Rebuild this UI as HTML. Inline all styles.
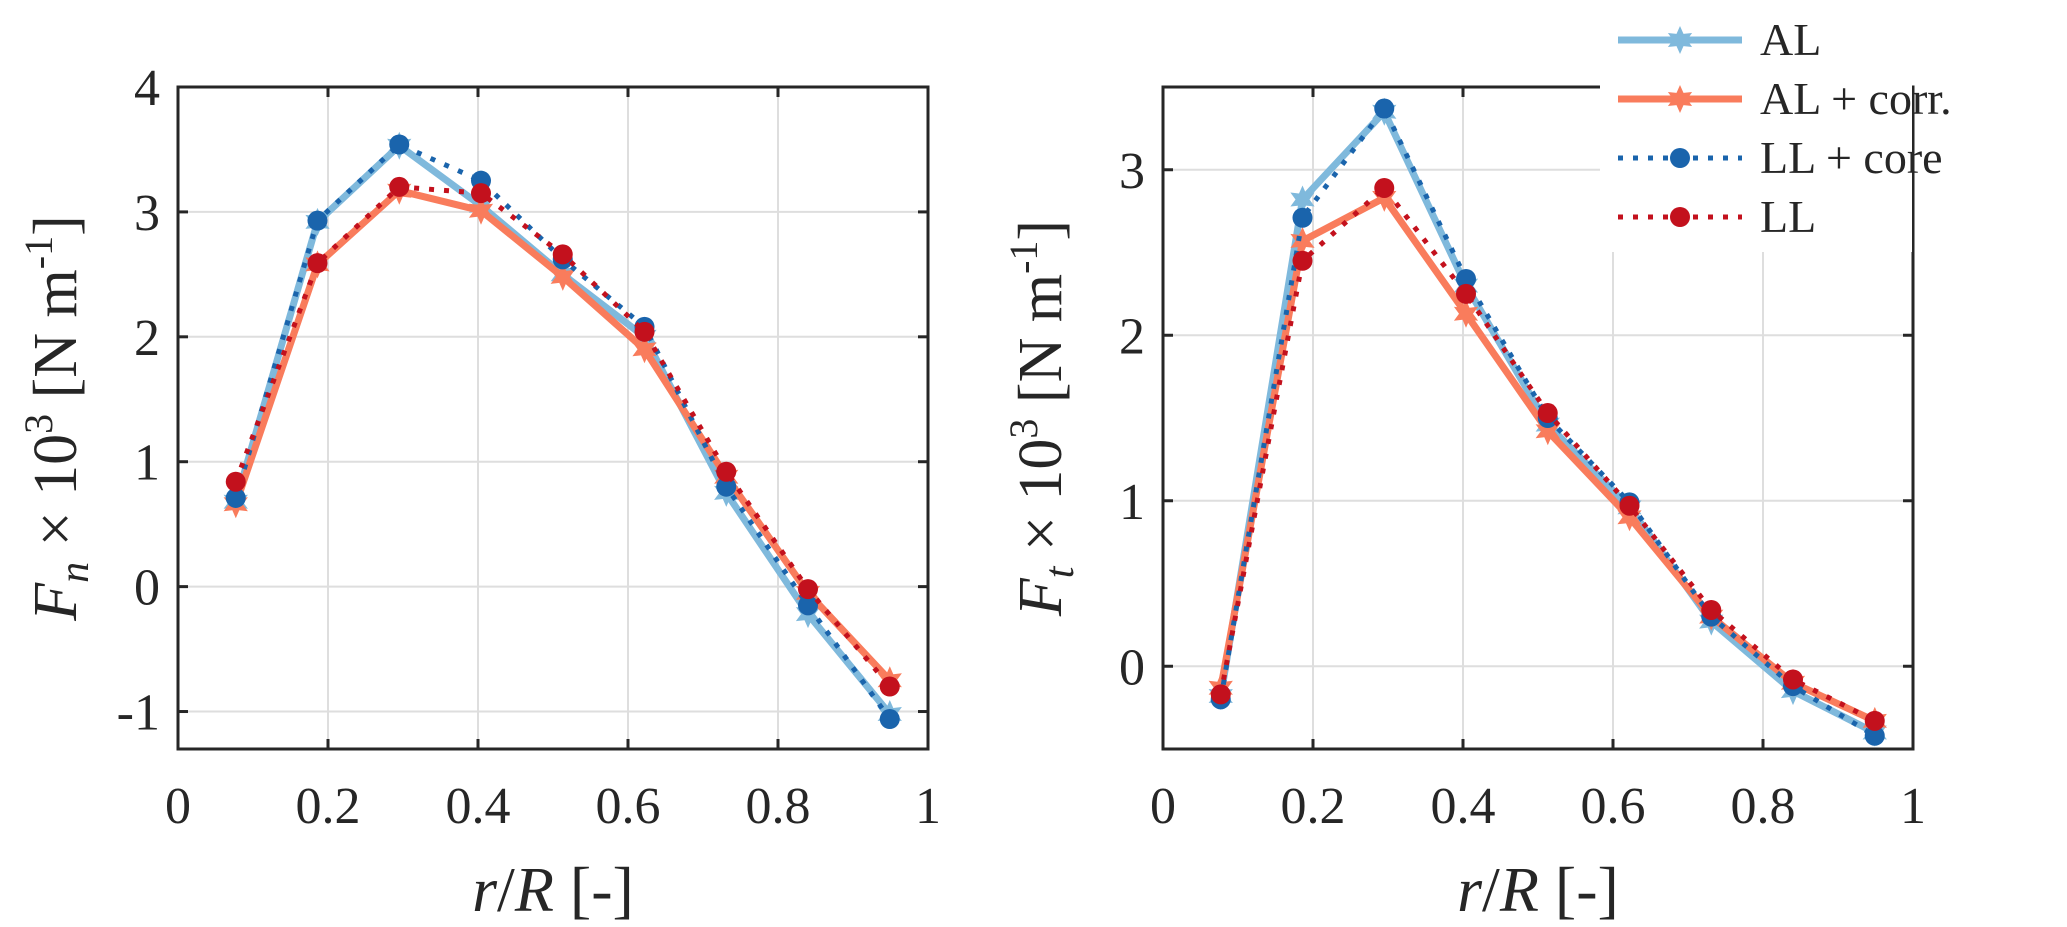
<!DOCTYPE html>
<html><head><meta charset="utf-8"><style>
html,body{margin:0;padding:0;background:#fff;}
svg{display:block;font-family:"Liberation Serif",serif;}
</style></head><body>
<svg id="chart" width="2067" height="927" viewBox="0 0 2067 927" xmlns="http://www.w3.org/2000/svg"></svg>
<script>
const xs = [0.077,0.186,0.295,0.404,0.513,0.622,0.731,0.840,0.949];
const fnAL = [0.68,2.92,3.53,3.05,2.50,2.00,0.75,-0.22,-1.02];
const fnALc = [0.66,2.58,3.17,3.01,2.48,1.90,0.88,-0.05,-0.75];
const fnLLc = [0.71,2.93,3.54,3.25,2.62,2.08,0.80,-0.15,-1.06];
const fnLL = [0.84,2.59,3.20,3.15,2.66,2.04,0.92,-0.02,-0.80];
const ftAL = [-0.18,2.82,3.35,2.30,1.46,0.96,0.27,-0.15,-0.40];
const ftALc = [-0.13,2.57,2.83,2.13,1.42,0.90,0.30,-0.10,-0.33];
const ftLLc = [-0.20,2.71,3.37,2.34,1.50,0.99,0.30,-0.12,-0.42];
const ftLL = [-0.17,2.45,2.89,2.25,1.53,0.97,0.34,-0.08,-0.33];
const xTicks = [0,0.2,0.4,0.6,0.8,1];
const xTickLabels = ["0","0.2","0.4","0.6","0.8","1"];
const yTicksL = [-1,0,1,2,3,4];
const yTicksR = [0,1,2,3];
const legendLabels = ["AL","AL + corr.","LL + core","LL"];

const NS="http://www.w3.org/2000/svg";
const svg=document.getElementById('chart');
function mk(tag,attrs,parent){const e=document.createElementNS(NS,tag);for(const k in attrs)e.setAttribute(k,attrs[k]);(parent||svg).appendChild(e);return e;}
function star(cx,cy,r){let p=[];for(let i=0;i<12;i++){const a=-Math.PI/2+i*Math.PI/6;const rr=i%2?r*0.5:r;p.push((cx+rr*Math.cos(a)).toFixed(1)+','+(cy+rr*Math.sin(a)).toFixed(1));}return p.join(' ');}

const series=[
 {c:'#7fb9dc',dash:null,m:'star',w:7},
 {c:'#f97c5c',dash:null,m:'star',w:7},
 {c:'#1a64ac',dash:'5 10',m:'dot',w:5},
 {c:'#c3111d',dash:'5 10',m:'dot',w:5}
];

function panel(name,x0,x1,yMin,yMax,yTicks,data,ylabelMain,sub){
  const top=87,bot=749;
  const X=v=>x0+(x1-x0)*v;
  const Y=v=>bot-(bot-top)*(v-yMin)/(yMax-yMin);
  const g=mk('g',{});
  
  
  xTicks.forEach(t=>{const l=mk('line',{x1:X(t),x2:X(t),y1:top,y2:bot,stroke:'#dedede','stroke-width':2},g);});
  yTicks.forEach(t=>{const l=mk('line',{x1:x0,x2:x1,y1:Y(t),y2:Y(t),stroke:'#dedede','stroke-width':2},g);});
  data.forEach((d,si)=>{
    const s=series[si];
    const pts=xs.map((x,i)=>X(x).toFixed(1)+','+Y(d[i]).toFixed(1)).join(' ');
    const pl=mk('polyline',{points:pts,fill:'none',stroke:s.c,'stroke-width':s.w,'stroke-linejoin':'round'},g);
    if(s.dash)pl.setAttribute('stroke-dasharray',s.dash);
    
    
    xs.forEach((x,i)=>{
      let m;
      if(s.m==='star')m=mk('polygon',{points:star(X(x),Y(d[i]),14),fill:s.c},g);
      else m=mk('circle',{cx:X(x),cy:Y(d[i]),r:10,fill:s.c},g);
      
      
    });
  });
  const box=mk('rect',{x:x0,y:top,width:x1-x0,height:bot-top,fill:'none',stroke:'#262626','stroke-width':3},g);
  
  xTicks.forEach((t,i)=>{
    mk('line',{x1:X(t),x2:X(t),y1:bot,y2:bot-10,stroke:'#262626','stroke-width':3},g);
    mk('line',{x1:X(t),x2:X(t),y1:top,y2:top+10,stroke:'#262626','stroke-width':3},g);
    const tx=mk('text',{x:X(t),y:bot+74,'text-anchor':'middle','font-size':52,fill:'#262626'},g);
    tx.textContent=xTickLabels[i];
    
  });
  yTicks.forEach(t=>{
    mk('line',{x1:x0,x2:x0+10,y1:Y(t),y2:Y(t),stroke:'#262626','stroke-width':3},g);
    mk('line',{x1:x1,x2:x1-10,y1:Y(t),y2:Y(t),stroke:'#262626','stroke-width':3},g);
    const tx=mk('text',{x:x0-18,y:Y(t)+18,'text-anchor':'end','font-size':52,fill:'#262626'},g);
    tx.textContent=String(t);
    
  });
  const xl=mk('text',{x:(x0+x1)/2,y:bot+162,'text-anchor':'middle','font-size':64,fill:'#262626'},g);
  xl.innerHTML='<tspan font-style="italic">r</tspan>/<tspan font-style="italic">R</tspan> [-]';
  
  const cy=(top+bot)/2;
  const yl=mk('text',{x:0,y:0,'text-anchor':'middle','font-size':62,fill:'#262626',transform:`translate(${x0-102},${cy}) rotate(-90)`},g);
  yl.innerHTML='<tspan font-style="italic">'+ylabelMain+'</tspan><tspan font-style="italic" font-size="42" dy="12">'+sub+'</tspan><tspan dy="-12"> × 10</tspan><tspan font-size="40" dy="-24">3</tspan><tspan dy="24"> [N m</tspan><tspan font-size="40" dy="-24">-1</tspan><tspan dy="24">]</tspan>';
  
}
panel('left-panel-fn',178,928,-1.3,4,yTicksL,[fnAL,fnALc,fnLLc,fnLL],'F','n');
panel('right-panel-ft',1163,1913,-0.5,3.5,yTicksR,[ftAL,ftALc,ftLLc,ftLL],'F','t');

// legend
const lg=mk('g',{});


mk('rect',{x:1600,y:12,width:312,height:240,fill:'#fff'},lg);
legendLabels.forEach((lab,i)=>{
  const s=series[i];const y=40+i*59;
  const e=mk('g',{},lg);
  
  
  const l=mk('line',{x1:1618,x2:1742,y1:y,y2:y,stroke:s.c,'stroke-width':s.w},e);
  if(s.dash)l.setAttribute('stroke-dasharray',s.dash);
  if(s.m==='star')mk('polygon',{points:star(1680,y,14),fill:s.c},e);
  else mk('circle',{cx:1680,cy:y,r:10,fill:s.c},e);
  const t=mk('text',{x:1760,y:y+15,'font-size':46,fill:'#262626'},e);
  t.textContent=lab;
});
</script>
</body></html>
